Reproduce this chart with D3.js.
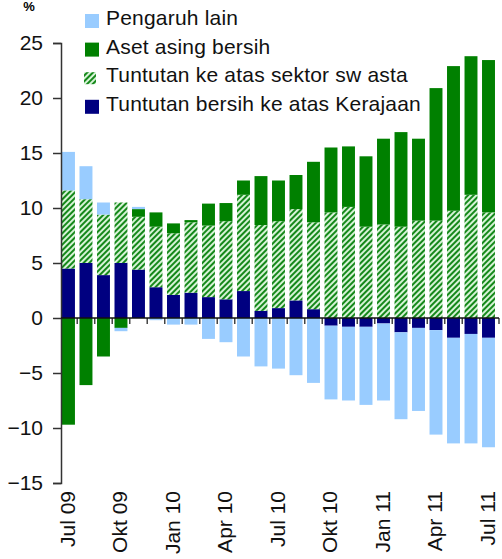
<!DOCTYPE html>
<html>
<head>
<meta charset="utf-8">
<script src="https://cdn.jsdelivr.net/npm/d3@7"></script>
<style>
  body { margin: 0; background: #fff; }
  svg { display: block; font-family: "Liberation Sans", Arial, sans-serif; }
</style>
</head>
<body>
<div id="chart"></div>
<script>
// months, Jul 09 - Jul 11
const months = ['Jul 09', 'Ogo 09', 'Sep 09', 'Okt 09', 'Nov 09', 'Dis 09',
    'Jan 10', 'Feb 10', 'Mac 10', 'Apr 10', 'Mei 10', 'Jun 10',
    'Jul 10', 'Ogo 10', 'Sep 10', 'Okt 10', 'Nov 10', 'Dis 10',
    'Jan 11', 'Feb 11', 'Mac 11', 'Apr 11', 'Mei 11', 'Jun 11', 'Jul 11'];
const shownLabels = ['Jul 09', 'Okt 09', 'Jan 10', 'Apr 10', 'Jul 10', 'Okt 10', 'Jan 11', 'Apr 11', 'Jul 11'];

const govt = [4.5, 5.0, 3.9, 5.0, 4.4, 2.8, 2.1, 2.3, 1.9, 1.7, 2.45, 0.65, 0.9,
    1.6, 0.8, -0.7, -0.8, -0.8, -0.5, -1.3, -0.9, -1.1, -1.8, -1.45, -1.8];
const privateSector = [7.1, 5.8, 5.5, 5.5, 4.8, 5.5, 5.6, 6.4, 6.5, 7.1, 8.75, 7.8, 7.9,
    8.3, 7.9, 9.6, 10.1, 8.3, 8.5, 8.3, 8.85, 8.85, 9.75, 11.2, 9.6];
const foreignAssets = [-9.7, -6.1, -3.5, -0.9, 0.7, 1.3, 0.9, 0.2, 2.0, 1.65, 1.3, 4.45, 3.7,
    3.1, 5.5, 5.9, 5.5, 6.4, 7.8, 8.6, 7.45, 12.05, 13.15, 12.6, 13.85];
const otherFactors = [3.5, 3.0, 1.1, -0.3, 0.2, -0.2, -0.6, -0.6, -1.9, -2.2, -3.5, -4.4, -4.6,
    -5.2, -5.9, -6.7, -6.7, -7.1, -7.0, -7.9, -7.55, -9.5, -9.6, -9.95, -9.95];

const yTicks = [-15, -10, -5, 0, 5, 10, 15, 20, 25];

const legendNames = ['Pengaruh lain', 'Aset asing bersih', 'Tuntutan ke atas sektor sw asta', 'Tuntutan bersih ke atas Kerajaan'];

const W = 502, H = 559;
const svg = d3.select('#chart').append('svg')
    .attr('width', W)
    .attr('height', H);

// hatch for private sector claims
const defs = svg.append('defs');
const pat = defs.append('pattern')
    .attr('id', 'hatch')
    .attr('patternUnits', 'userSpaceOnUse')
    .attr('width', 4)
    .attr('height', 4)
    .attr('patternTransform', 'rotate(45)');
pat.append('rect').attr('width', 4).attr('height', 4).attr('fill', '#d6f3d6');
pat.append('rect').attr('width', 2).attr('height', 4).attr('fill', '#15881a');

const keys = ['govt', 'private', 'foreign', 'other'];
const fills = {govt: '#000080', private: 'url(#hatch)', foreign: '#008000', other: '#99ccff'};

const rows = months.map((m, i) => ({
    month: m,
    govt: govt[i],
    private: privateSector[i],
    foreign: foreignAssets[i],
    other: otherFactors[i]
}));

const series = d3.stack()
    .keys(keys)
    .offset(d3.stackOffsetDiverging)(rows);

const xScale = d3.scaleBand()
    .domain(months)
    .range([62, 499])
    .paddingInner(0.26)
    .paddingOuter(0.115)
    .align(0);

const yScale = d3.scaleLinear([-15, 25], [483, 43]);

svg.append('g')
    .selectAll('g')
    .data(series)
    .join('g')
        .attr('fill', d => fills[d.key])
    .selectAll('rect')
    .data(d => d)
    .join('rect')
        .attr('x', d => xScale(d.data.month))
        .attr('width', xScale.bandwidth())
        .attr('y', d => yScale(d[1]))
        .attr('height', d => yScale(d[0]) - yScale(d[1]));

// y axis
const yAxis = svg.append('g')
    .attr('transform', 'translate(61, 0)')
    .call(d3.axisLeft(yScale).tickValues(yTicks).tickSize(8).tickPadding(10));
yAxis.select('.domain').attr('stroke', '#333').attr('stroke-width', 1.5);
yAxis.selectAll('.tick line').attr('stroke', '#333').attr('stroke-width', 1.5);
yAxis.selectAll('.tick text')
    .attr('font-size', 21)
    .attr('font-family', '"Liberation Sans", Arial, sans-serif')
    .attr('fill', '#111');

// zero line with ticks between months
const gap = xScale.step() * xScale.paddingInner() / 2;
const zero = svg.append('g');
zero.selectAll('line.tk')
    .data(months.slice(1))
    .join('line')
        .attr('class', 'tk')
        .attr('x1', d => xScale(d) - gap)
        .attr('x2', d => xScale(d) - gap)
        .attr('y1', yScale(0))
        .attr('y2', yScale(0) + 6)
        .attr('stroke', '#444')
        .attr('stroke-width', 1.5);
zero.append('line')
    .attr('x1', 499).attr('x2', 499)
    .attr('y1', yScale(0)).attr('y2', yScale(0) + 6)
    .attr('stroke', '#444').attr('stroke-width', 1.5);
zero.append('line')
    .attr('x1', 61).attr('x2', 499)
    .attr('y1', yScale(0)).attr('y2', yScale(0))
    .attr('stroke', '#111')
    .attr('stroke-width', 1.5);

// month labels, rotated
svg.append('g')
    .selectAll('text')
    .data(shownLabels)
    .join('text')
        .attr('transform', d => `translate(${xScale(d) + xScale.bandwidth() / 2 - 1}, 491) rotate(-90)`)
        .attr('dy', '0.35em')
        .attr('text-anchor', 'end')
        .attr('font-size', 21)
        .attr('fill', '#111')
        .text(d => d);

// % unit
svg.append('text')
    .attr('x', 29)
    .attr('y', 11)
    .attr('text-anchor', 'middle')
    .attr('font-size', 13)
    .attr('font-weight', 'bold')
    .text('%');

// legend
const legendFills = ['#99ccff', '#008000', 'url(#hatch)', '#000080'];
const legend = svg.append('g');
legendNames.forEach((name, i) => {
    const base = 25 + i * 28.6;
    if (i === 2) {
        legend.append('rect')
            .attr('x', 84).attr('y', base - 10)
            .attr('width', 12).attr('height', 12)
            .attr('fill', legendFills[i]);
    } else {
        legend.append('rect')
            .attr('x', 85).attr('y', base - 11)
            .attr('width', 14).attr('height', 14)
            .attr('fill', legendFills[i]);
    }
    legend.append('text')
        .attr('x', 106)
        .attr('y', base)
        .attr('font-size', 21)
        .attr('letter-spacing', 0.2)
        .attr('fill', '#111')
        .text(name);
});
</script>
</body>
</html>
